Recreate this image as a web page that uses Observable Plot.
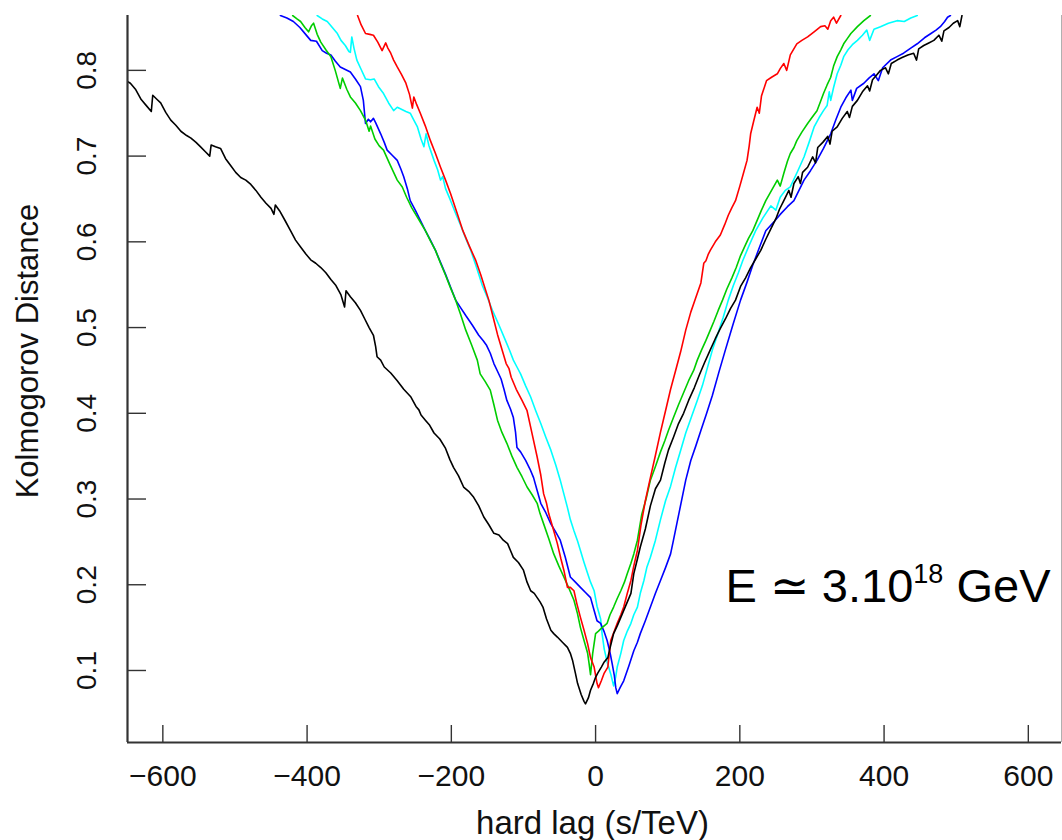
<!DOCTYPE html>
<html><head><meta charset="utf-8">
<script src="https://cdn.jsdelivr.net/npm/d3@7"></script>
<script src="https://cdn.jsdelivr.net/npm/@observablehq/plot@0.6"></script>
<style>body{margin:0;background:#fff} #chart svg{display:block}</style>
</head><body><div id="chart"></div>
<script>
// ---------- data ----------
const xDomain = [-649, 646];
const yDomain = [0.016, 0.864];
const xTicks = [-600, -400, -200, 0, 200, 400, 600];
const xTickLabels = ["\u2212600", "\u2212400", "\u2212200", "0", "200", "400", "600"];
const yTicks = [0.1, 0.2, 0.3, 0.4, 0.5, 0.6, 0.7, 0.8];
const yTickLabels = ["0.1", "0.2", "0.3", "0.4", "0.5", "0.6", "0.7", "0.8"];
const xTitle = "hard lag (s/TeV)";
const yTitle = "Kolmogorov Distance";
const labelMain = "E \u2243 3.10";
const labelSup = "18";
const labelUnit = " GeV";

const seriesNames = ["run 1", "run 2", "run 3", "run 4", "run 5"];
const seriesColors = ["#000000", "#ff0000", "#00cd00", "#0000ff", "#00ffff"];

const blackPts = [[-649,0.787],[-645,0.785],[-638,0.778],[-630,0.766],[-622,0.758],[-616,0.752],[-614,0.771],[-608,0.766],[-603,0.762],[-596,0.751],[-589,0.742],[-582,0.736],[-575,0.729],[-567,0.724],[-561,0.721],[-554,0.716],[-548,0.711],[-541,0.705],[-535,0.700],[-533,0.713],[-527,0.711],[-520,0.709],[-513,0.697],[-506,0.689],[-499,0.681],[-492,0.675],[-485,0.672],[-478,0.667],[-471,0.660],[-464,0.652],[-457,0.645],[-450,0.639],[-446,0.632],[-444,0.643],[-438,0.636],[-430,0.624],[-423,0.613],[-416,0.602],[-409,0.594],[-402,0.586],[-395,0.579],[-388,0.575],[-381,0.570],[-374,0.564],[-367,0.556],[-360,0.549],[-353,0.538],[-348,0.524],[-346,0.543],[-340,0.536],[-333,0.529],[-326,0.520],[-320,0.510],[-314,0.500],[-308,0.491],[-305,0.478],[-303,0.466],[-298,0.462],[-293,0.454],[-284,0.447],[-275,0.438],[-266,0.428],[-256,0.419],[-249,0.408],[-245,0.404],[-242,0.398],[-236,0.392],[-230,0.386],[-224,0.377],[-216,0.370],[-208,0.359],[-202,0.346],[-197,0.337],[-190,0.327],[-183,0.314],[-176,0.309],[-169,0.302],[-162,0.292],[-155,0.279],[-148,0.270],[-141,0.260],[-134,0.258],[-128,0.252],[-122,0.248],[-118,0.240],[-114,0.232],[-107,0.226],[-100,0.217],[-95,0.203],[-90,0.193],[-85,0.190],[-81,0.185],[-77,0.180],[-73,0.174],[-68,0.160],[-62,0.147],[-58,0.143],[-53,0.139],[-46,0.133],[-39,0.127],[-35,0.120],[-32,0.112],[-28,0.097],[-25,0.085],[-20,0.072],[-16,0.064],[-14,0.061],[-10,0.068],[-7,0.077],[-3,0.085],[0,0.092],[3,0.097],[8,0.104],[12,0.110],[17,0.115],[20,0.126],[25,0.143],[30,0.152],[35,0.162],[42,0.176],[49,0.190],[53,0.213],[58,0.230],[62,0.244],[69,0.265],[76,0.292],[83,0.312],[90,0.322],[96,0.342],[101,0.357],[108,0.372],[115,0.388],[122,0.400],[129,0.415],[137,0.430],[144,0.445],[151,0.459],[159,0.474],[166,0.487],[173,0.499],[180,0.510],[187,0.522],[194,0.532],[201,0.548],[208,0.558],[215,0.570],[222,0.580],[229,0.590],[236,0.603],[243,0.615],[250,0.627],[255,0.638],[261,0.648],[268,0.660],[271,0.652],[275,0.668],[281,0.676],[284,0.668],[287,0.681],[294,0.687],[301,0.699],[305,0.692],[308,0.710],[315,0.716],[322,0.723],[325,0.714],[328,0.729],[335,0.734],[342,0.744],[349,0.752],[352,0.745],[356,0.758],[363,0.765],[370,0.775],[377,0.782],[380,0.776],[384,0.789],[390,0.795],[395,0.800],[402,0.803],[406,0.796],[410,0.808],[418,0.812],[425,0.815],[433,0.818],[441,0.820],[445,0.812],[448,0.825],[455,0.829],[462,0.832],[469,0.835],[476,0.841],[480,0.834],[483,0.846],[490,0.850],[496,0.855],[502,0.858],[505,0.851],[508,0.864]];

const redPts = [[-330,0.864],[-325,0.853],[-319,0.843],[-313,0.842],[-308,0.841],[-302,0.833],[-296,0.823],[-291,0.832],[-288,0.826],[-284,0.820],[-280,0.812],[-275,0.804],[-269,0.795],[-263,0.785],[-258,0.772],[-254,0.756],[-252,0.769],[-248,0.760],[-243,0.750],[-236,0.735],[-229,0.718],[-222,0.703],[-215,0.687],[-208,0.672],[-201,0.656],[-193,0.636],[-184,0.613],[-175,0.595],[-166,0.578],[-159,0.561],[-153,0.545],[-148,0.532],[-142,0.512],[-136,0.492],[-130,0.475],[-124,0.458],[-120,0.452],[-117,0.442],[-110,0.428],[-102,0.415],[-95,0.403],[-88,0.376],[-81,0.349],[-76,0.328],[-72,0.306],[-68,0.295],[-65,0.283],[-59,0.266],[-53,0.248],[-48,0.230],[-44,0.217],[-41,0.205],[-39,0.197],[-35,0.197],[-30,0.193],[-26,0.178],[-21,0.162],[-16,0.147],[-11,0.131],[-7,0.115],[-2,0.104],[2,0.085],[4,0.080],[8,0.088],[12,0.097],[17,0.104],[19,0.120],[21,0.135],[26,0.146],[30,0.155],[35,0.165],[39,0.174],[44,0.190],[49,0.205],[53,0.222],[58,0.240],[63,0.270],[69,0.298],[76,0.325],[83,0.351],[90,0.378],[97,0.403],[104,0.428],[111,0.450],[118,0.472],[125,0.497],[132,0.518],[139,0.535],[146,0.552],[150,0.575],[153,0.578],[156,0.585],[159,0.590],[166,0.600],[173,0.608],[179,0.620],[184,0.631],[189,0.640],[194,0.648],[200,0.665],[205,0.680],[210,0.695],[213,0.712],[215,0.726],[219,0.740],[224,0.757],[227,0.750],[230,0.770],[237,0.788],[244,0.792],[252,0.796],[256,0.802],[261,0.808],[265,0.800],[270,0.818],[279,0.831],[286,0.835],[294,0.839],[303,0.845],[312,0.851],[318,0.852],[322,0.848],[326,0.858],[330,0.862],[334,0.855],[340,0.864]];

const greenPts = [[-420,0.864],[-414,0.860],[-409,0.857],[-403,0.850],[-398,0.845],[-394,0.852],[-391,0.855],[-386,0.842],[-381,0.833],[-374,0.824],[-367,0.816],[-361,0.800],[-354,0.779],[-351,0.791],[-345,0.778],[-340,0.769],[-333,0.762],[-326,0.753],[-319,0.742],[-314,0.729],[-312,0.735],[-306,0.720],[-300,0.712],[-294,0.707],[-285,0.690],[-275,0.672],[-268,0.664],[-262,0.652],[-255,0.640],[-248,0.630],[-241,0.620],[-236,0.613],[-229,0.601],[-222,0.590],[-215,0.575],[-208,0.561],[-201,0.546],[-194,0.532],[-187,0.515],[-180,0.497],[-172,0.480],[-164,0.462],[-160,0.446],[-153,0.437],[-146,0.427],[-141,0.410],[-136,0.392],[-130,0.378],[-123,0.365],[-116,0.350],[-109,0.337],[-102,0.326],[-95,0.314],[-88,0.305],[-81,0.295],[-77,0.283],[-72,0.271],[-65,0.254],[-58,0.236],[-51,0.222],[-44,0.209],[-37,0.196],[-30,0.182],[-25,0.166],[-21,0.150],[-16,0.135],[-11,0.120],[-9,0.108],[-7,0.095],[-4,0.120],[0,0.143],[4,0.146],[9,0.150],[16,0.155],[20,0.165],[25,0.174],[30,0.184],[35,0.193],[40,0.203],[44,0.213],[49,0.225],[53,0.236],[58,0.252],[64,0.282],[70,0.300],[76,0.322],[83,0.338],[90,0.355],[96,0.368],[101,0.380],[108,0.395],[115,0.410],[122,0.424],[129,0.438],[136,0.450],[141,0.462],[147,0.474],[153,0.485],[159,0.497],[164,0.507],[170,0.520],[176,0.532],[182,0.545],[189,0.558],[195,0.570],[201,0.584],[207,0.595],[212,0.604],[218,0.613],[224,0.625],[230,0.637],[236,0.648],[244,0.660],[252,0.672],[256,0.665],[261,0.680],[266,0.694],[270,0.703],[275,0.710],[279,0.718],[286,0.728],[294,0.738],[300,0.745],[307,0.753],[312,0.764],[316,0.773],[321,0.783],[326,0.792],[330,0.805],[335,0.816],[340,0.824],[344,0.831],[349,0.837],[354,0.843],[363,0.851],[372,0.858],[381,0.864]];

const bluePts = [[-437,0.864],[-428,0.861],[-419,0.857],[-410,0.850],[-402,0.842],[-395,0.835],[-387,0.834],[-379,0.823],[-373,0.820],[-367,0.818],[-361,0.811],[-354,0.804],[-347,0.801],[-340,0.798],[-333,0.790],[-326,0.781],[-322,0.765],[-319,0.738],[-315,0.743],[-312,0.740],[-308,0.744],[-305,0.739],[-298,0.726],[-293,0.716],[-289,0.707],[-282,0.701],[-275,0.695],[-270,0.685],[-266,0.676],[-261,0.662],[-257,0.648],[-250,0.637],[-243,0.625],[-236,0.613],[-229,0.602],[-222,0.590],[-215,0.576],[-208,0.562],[-201,0.547],[-194,0.532],[-187,0.523],[-180,0.514],[-171,0.503],[-162,0.491],[-156,0.485],[-151,0.479],[-146,0.470],[-141,0.458],[-136,0.449],[-131,0.440],[-127,0.428],[-123,0.415],[-118,0.405],[-114,0.395],[-111,0.378],[-109,0.360],[-104,0.355],[-97,0.345],[-91,0.335],[-86,0.325],[-81,0.310],[-76,0.295],[-69,0.284],[-62,0.271],[-55,0.261],[-49,0.252],[-42,0.232],[-35,0.209],[-28,0.203],[-21,0.197],[-14,0.191],[-7,0.185],[-2,0.170],[2,0.158],[7,0.155],[12,0.145],[16,0.135],[20,0.121],[23,0.108],[26,0.094],[28,0.080],[30,0.073],[34,0.080],[39,0.088],[46,0.105],[53,0.123],[58,0.133],[62,0.143],[69,0.158],[76,0.174],[83,0.190],[90,0.205],[97,0.220],[104,0.236],[108,0.252],[116,0.285],[125,0.322],[132,0.345],[139,0.362],[146,0.380],[154,0.400],[162,0.421],[171,0.448],[180,0.474],[190,0.502],[201,0.532],[210,0.553],[218,0.573],[227,0.593],[236,0.613],[248,0.624],[256,0.632],[266,0.641],[275,0.648],[282,0.660],[289,0.672],[298,0.683],[307,0.695],[316,0.709],[326,0.726],[333,0.742],[340,0.757],[347,0.768],[354,0.777],[356,0.765],[362,0.779],[372,0.785],[379,0.791],[386,0.796],[392,0.788],[398,0.803],[409,0.812],[418,0.816],[427,0.820],[437,0.826],[446,0.831],[456,0.838],[465,0.843],[472,0.847],[478,0.851],[484,0.857],[488,0.862],[492,0.864]];

const cyanPts = [[-386,0.864],[-379,0.860],[-372,0.857],[-365,0.850],[-358,0.843],[-353,0.835],[-347,0.829],[-342,0.822],[-340,0.821],[-338,0.839],[-335,0.826],[-331,0.812],[-325,0.801],[-319,0.790],[-312,0.789],[-307,0.790],[-301,0.781],[-294,0.773],[-287,0.762],[-280,0.753],[-275,0.757],[-270,0.755],[-263,0.752],[-257,0.750],[-252,0.742],[-247,0.734],[-242,0.720],[-238,0.711],[-235,0.726],[-231,0.712],[-224,0.695],[-219,0.684],[-215,0.672],[-212,0.676],[-208,0.662],[-201,0.648],[-194,0.633],[-187,0.619],[-180,0.604],[-173,0.590],[-165,0.570],[-157,0.549],[-150,0.535],[-143,0.520],[-134,0.503],[-125,0.485],[-119,0.473],[-114,0.462],[-109,0.454],[-104,0.446],[-97,0.432],[-90,0.419],[-83,0.403],[-76,0.388],[-69,0.372],[-62,0.357],[-55,0.339],[-49,0.322],[-44,0.306],[-39,0.290],[-35,0.276],[-30,0.263],[-25,0.251],[-21,0.240],[-16,0.226],[-11,0.213],[-7,0.203],[-2,0.193],[2,0.175],[7,0.160],[9,0.143],[12,0.125],[16,0.110],[21,0.096],[25,0.082],[28,0.093],[30,0.104],[35,0.120],[39,0.135],[44,0.146],[49,0.155],[53,0.165],[58,0.174],[62,0.190],[67,0.205],[71,0.220],[76,0.232],[83,0.252],[90,0.276],[97,0.298],[104,0.315],[111,0.337],[118,0.357],[125,0.377],[133,0.396],[141,0.415],[148,0.432],[155,0.453],[162,0.474],[170,0.494],[177,0.512],[184,0.532],[191,0.549],[198,0.564],[204,0.578],[213,0.596],[222,0.613],[232,0.628],[243,0.642],[250,0.637],[256,0.652],[263,0.660],[270,0.664],[280,0.682],[289,0.699],[296,0.716],[303,0.734],[310,0.745],[316,0.753],[321,0.759],[324,0.775],[326,0.765],[330,0.780],[335,0.796],[340,0.806],[344,0.816],[350,0.824],[356,0.830],[363,0.835],[370,0.841],[376,0.847],[380,0.835],[386,0.848],[395,0.851],[406,0.855],[418,0.858],[428,0.857],[437,0.861],[446,0.864]];

// ---------- build table ----------
const drawOrder = [["run 5", cyanPts], ["run 4", bluePts], ["run 3", greenPts], ["run 2", redPts], ["run 1", blackPts]];
const rows = [];
for (const [name, pts] of drawOrder) for (const [x, y] of pts) rows.push({series: name, x, y});

const font = "'Liberation Sans', Arial, Helvetica, sans-serif";

const chart = Plot.plot({
  width: 1062,
  height: 840,
  marginLeft: 127,
  marginRight: 1,
  marginTop: 15,
  marginBottom: 98,
  style: {fontFamily: font, background: "#fff", color: "#000", overflow: "visible"},
  x: {domain: xDomain},
  y: {domain: yDomain},
  color: {type: "ordinal", domain: seriesNames, range: seriesColors},
  marks: [
    Plot.line(rows, {x: "x", y: "y", z: "series", stroke: "series", strokeWidth: 1.6, clip: true}),
    Plot.ruleX([xDomain[1]], {stroke: "#b0b0b0", strokeWidth: 1}),
    Plot.ruleX([xDomain[0]], {stroke: "#333", strokeWidth: 2.2}),
    Plot.ruleY([yDomain[0]], {stroke: "#333", strokeWidth: 2.2}),
    Plot.axisX(xTicks, {tickSize: 17, dy: -17, fill: "none", stroke: "#333", strokeWidth: 1.4, label: null}),
    Plot.axisY(yTicks, {tickSize: 19, dx: 19, fill: "none", stroke: "#333", strokeWidth: 1.4, label: null}),
    Plot.axisX(xTicks, {tickSize: 0, tickPadding: 22, fontSize: 30, fill: "#111", label: null,
      tickFormat: d => xTickLabels[xTicks.indexOf(d)]}),
    Plot.text(yTicks, {y: d => d, text: d => yTickLabels[yTicks.indexOf(d)], frameAnchor: "left",
      dx: -32, rotate: -90, textAnchor: "middle", lineAnchor: "bottom", fontSize: 28, fill: "#111"}),
    Plot.text([yTitle], {text: d => d, frameAnchor: "left", dx: -90, dy: -28, rotate: -90,
      textAnchor: "middle", lineAnchor: "bottom", fontSize: 31, fill: "#111"}),
    Plot.text([xTitle], {text: d => d, frameAnchor: "bottom", dy: 91, dx: -2, textAnchor: "middle",
      lineAnchor: "bottom", fontSize: 33, fill: "#111", letterSpacing: "1.2px"}),
    Plot.text([labelMain + labelSup + labelUnit], {text: d => d, frameAnchor: "bottom-right", dx: -11, dy: -141,
      textAnchor: "end", lineAnchor: "bottom", fontSize: 47, fill: "#000"})
  ]
});
document.getElementById("chart").append(chart);

// superscript on the energy label
d3.select(chart).selectAll("text").each(function () {
  if (this.textContent === labelMain + labelSup + labelUnit) {
    const t = d3.select(this);
    t.text(null);
    t.append("tspan").text(labelMain);
    t.append("tspan").attr("dy", -19).attr("font-size", 27).text(labelSup);
    t.append("tspan").attr("dy", 19).text(labelUnit);
  }
});
</script>
</body></html>
